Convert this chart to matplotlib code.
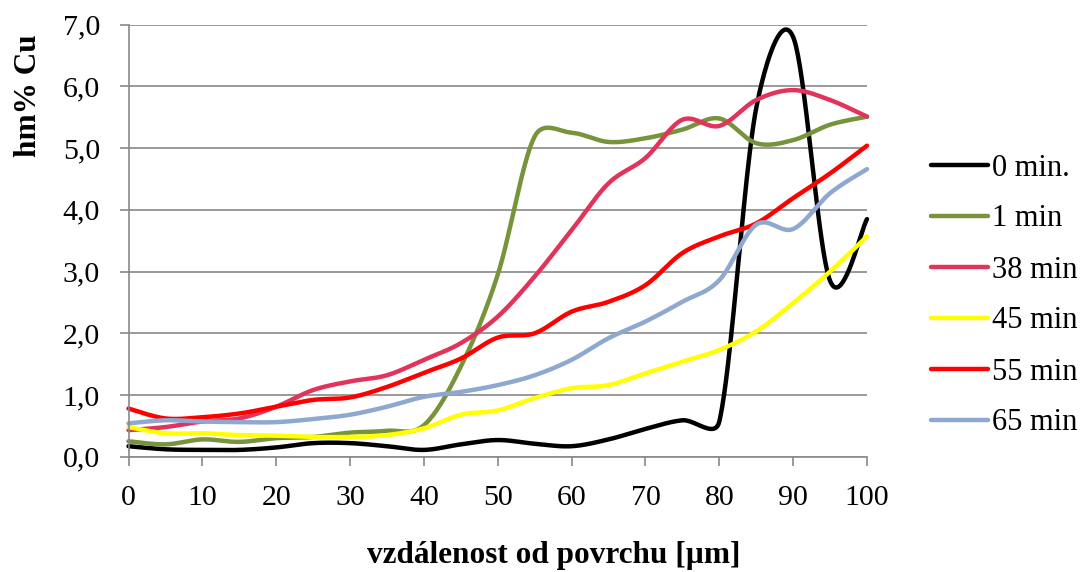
import numpy as np
import matplotlib
matplotlib.use("Agg")
import matplotlib.pyplot as plt
from matplotlib.ticker import FuncFormatter, MultipleLocator

# ---- data ----
distance = [0, 5, 10, 15, 20, 25, 30, 35, 40, 45, 50, 55, 60, 65, 70, 75, 80, 85, 90, 95, 100]
labels = ["0 min.", "1 min", "38 min", "45 min", "55 min", "65 min"]
cu_0 = [0.17, 0.12, 0.11, 0.11, 0.15, 0.22, 0.22, 0.17, 0.11, 0.20, 0.27, 0.21, 0.17, 0.28, 0.45, 0.59, 0.57, 5.65, 6.80, 2.85, 3.85]
cu_1 = [0.25, 0.20, 0.28, 0.24, 0.30, 0.32, 0.39, 0.42, 0.51, 1.46, 2.95, 5.19, 5.25, 5.10, 5.16, 5.30, 5.48, 5.08, 5.13, 5.38, 5.51]
cu_38 = [0.43, 0.48, 0.57, 0.62, 0.81, 1.08, 1.22, 1.32, 1.57, 1.84, 2.27, 2.92, 3.67, 4.43, 4.84, 5.46, 5.36, 5.78, 5.94, 5.78, 5.51]
cu_45 = [0.48, 0.38, 0.38, 0.35, 0.34, 0.32, 0.32, 0.35, 0.46, 0.68, 0.75, 0.95, 1.11, 1.16, 1.35, 1.54, 1.73, 2.03, 2.49, 3.00, 3.57]
cu_55 = [0.78, 0.62, 0.64, 0.70, 0.81, 0.92, 0.96, 1.13, 1.36, 1.59, 1.93, 2.00, 2.35, 2.51, 2.78, 3.30, 3.57, 3.78, 4.19, 4.59, 5.04]
cu_65 = [0.54, 0.59, 0.57, 0.56, 0.56, 0.61, 0.68, 0.81, 0.97, 1.05, 1.16, 1.32, 1.57, 1.92, 2.19, 2.51, 2.86, 3.76, 3.69, 4.27, 4.66]
series = [cu_0, cu_1, cu_38, cu_45, cu_55, cu_65]
colors = ["#000000", "#77933C", "#E2345B", "#FFFF00", "#FF0000", "#8FA8D0"]

plt.rcParams['font.family'] = ['Liberation Serif', 'DejaVu Serif']

W, H = 1084, 572
fig = plt.figure(figsize=(W / 100, H / 100), dpi=100)
ax = fig.add_axes([128.5 / W, 1 - 456.7 / H, (867 - 128.5) / W, (456.7 - 24.7) / H])
ax.set_xlim(0, 100)
ax.set_ylim(0, 7)

grid_c = "#898989"
ax.yaxis.set_major_locator(MultipleLocator(1))
ax.xaxis.set_major_locator(MultipleLocator(10))
ax.grid(axis='y', color=grid_c, linewidth=1.2)
ax.set_axisbelow(True)
for s in ['top', 'right']:
    ax.spines[s].set_visible(False)
for s in ['left', 'bottom']:
    ax.spines[s].set_color(grid_c)
    ax.spines[s].set_linewidth(1.2)
ax.tick_params(axis='both', direction='out', length=6.5, width=1.2, color=grid_c,
               labelsize=21.5, pad=14)
ax.yaxis.set_major_formatter(FuncFormatter(lambda v, p: f"{v:.1f}".replace('.', ',')))


def excel_smooth(xs, ys, n=40):
    pts = ax.transData.transform(np.column_stack([xs, ys]))
    N = len(pts)
    out = []
    for i in range(N - 1):
        p0 = pts[i - 1] if i > 0 else pts[i]
        p1 = pts[i]
        p2 = pts[i + 1]
        p3 = pts[i + 2] if i + 2 < N else pts[i + 1]
        d12 = np.linalg.norm(p2 - p1)
        d02 = np.linalg.norm(p2 - p0)
        d13 = np.linalg.norm(p3 - p1)
        f1 = min(1 / 6, d12 / (2 * d02)) if d02 > 0 else 0
        f2 = min(1 / 6, d12 / (2 * d13)) if d13 > 0 else 0
        c1 = p1 + f1 * (p2 - p0)
        c2 = p2 - f2 * (p3 - p1)
        t = np.linspace(0, 1, n)[:, None]
        b = ((1 - t) ** 3) * p1 + 3 * ((1 - t) ** 2) * t * c1 + 3 * (1 - t) * t ** 2 * c2 + t ** 3 * p2
        out.append(b if i == 0 else b[1:])
    out = np.vstack(out)
    return ax.transData.inverted().transform(out)


handles = []
for ys, c, lab in zip(series, colors, labels):
    sm = excel_smooth(distance, ys)
    h, = ax.plot(sm[:, 0], sm[:, 1], color=c, linewidth=3.2, label=lab,
                 solid_capstyle='round', solid_joinstyle='round', clip_on=False)
    handles.append(h)

fig.text(28 / W, 1 - 96 / H, "hm% Cu", rotation=90, ha='center', va='center',
         fontsize=22.5, fontweight='bold')
fig.text(554 / W, 1 - 556 / H, "vzdálenost od povrchu [µm]", ha='center', va='center',
         fontsize=22.5, fontweight='bold')

fig.legend(handles=handles, labels=labels, loc='center left',
           bbox_to_anchor=(931 / W, 1 - 295.5 / H), frameon=False,
           fontsize=22, borderpad=0, borderaxespad=0, handlelength=1.85,
           handletextpad=0.15, labelspacing=0.72)

fig.savefig("out.png", dpi=100)
